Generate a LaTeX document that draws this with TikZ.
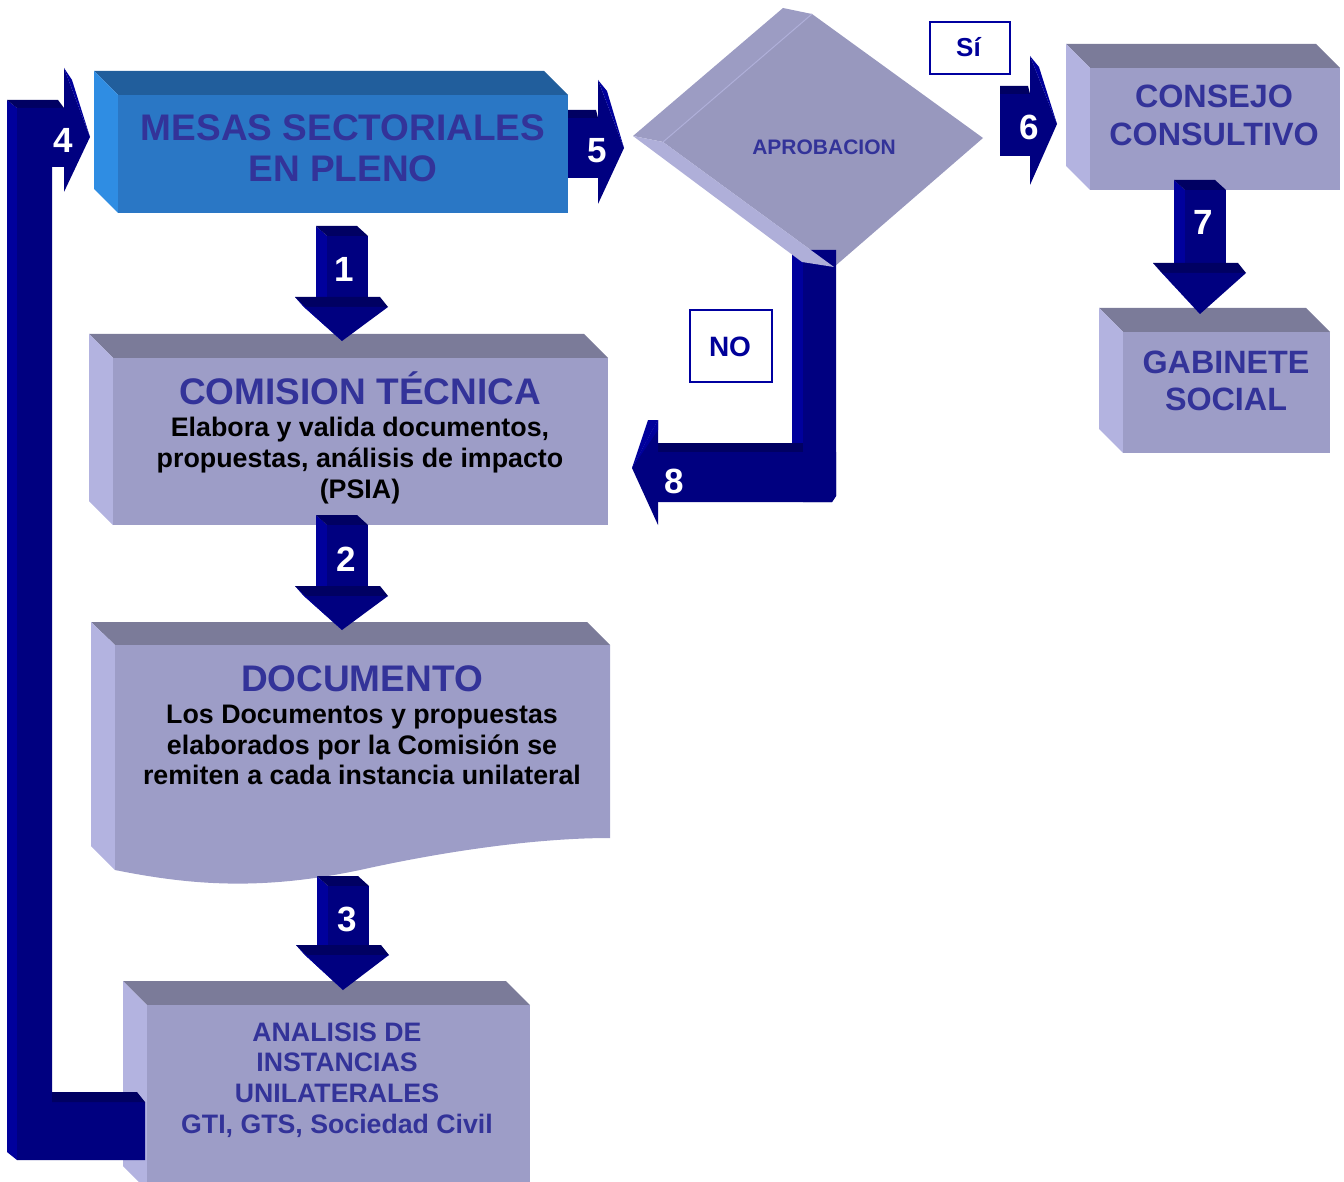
\documentclass[tikz,border=0pt]{standalone}
\usepackage{fontspec}
\setmainfont{Liberation Sans}
\definecolor{bxF}{HTML}{9D9DC7}
\definecolor{bxT}{HTML}{7B7B99}
\definecolor{bxL}{HTML}{B3B3E0}
\definecolor{msF}{HTML}{2A77C5}
\definecolor{msT}{HTML}{215E9C}
\definecolor{msL}{HTML}{2F8DE3}
\definecolor{tblue}{HTML}{333399}
\definecolor{arM}{HTML}{000080}
\definecolor{arL}{HTML}{00009C}
\definecolor{arD}{HTML}{000062}
\definecolor{dmF}{HTML}{9898BE}
\definecolor{dmU}{HTML}{9C9CC3}
\definecolor{dmL}{HTML}{AFAFD9}
\definecolor{lblbd}{HTML}{0000A0}
\definecolor{lbltx}{HTML}{000099}

\newcommand\BoxThreeD[8]{%
  \fill[#7] (#2,#3) -- ({#2-24},{#3-24}) -- ({#4-24},{#3-24}) -- (#4,#3) -- cycle;
  \fill[#8] (#2,#3) -- ({#2-24},{#3-24}) -- ({#2-24},{#5-24}) -- (#2,#5) -- cycle;
  \node[fill=#6, inner sep=0, minimum width={#4-#2}, minimum height={#5-#3}, anchor=north west] (#1) at (#2,#3) {};
}
\newcommand\DnArrow[4]{%
  \fill[arL] ({#1-26},#2) -- ({#1-15},{#2+10}) -- ({#1-15},#3) -- ({#1-26},#3) -- cycle;
  \fill[arD] ({#1-26},#2) -- ({#1+15},#2) -- ({#1+26},{#2+10}) -- ({#1-15},{#2+10}) -- cycle;
  \fill[arM] ({#1-15},{#2+10}) -- ({#1+26},{#2+10}) -- ({#1+26},#3) -- ({#1-15},#3) -- cycle;
  \fill[arD] ({#1-47},#3) -- ({#1+38},#3) -- ({#1+46},{#3+10}) -- ({#1-38},{#3+10}) -- cycle;
  \fill[arM] ({#1-38},{#3+10}) -- ({#1+46},{#3+10}) -- (#1,#4) -- cycle;
  \fill[arL] ({#1-47},#3) -- ({#1-38},{#3+10}) -- (#1,#4) -- cycle;
}
\newcommand\RtArrow[8]{% x0 st sb xh ht hb tipx tipy
  \fill[arD] (#1,#2) -- ({#4-2},#2) -- (#4,{#2+8}) -- (#1,{#2+8}) -- cycle;
  \fill[arM] (#1,{#2+8}) -- (#4,{#2+8}) -- (#4,#3) -- (#1,#3) -- cycle;
  \fill[arM] (#4,#5) -- (#7,#8) -- (#4,#6) -- cycle;
  \fill[arL] (#4,#5) -- ({#4+9},{#5+11}) -- (#7,#8) -- cycle;
}

\tikzset{
  numlbl/.style={text=white, font=\fontsize{35}{40}\selectfont\bfseries, anchor=base, inner sep=0},
  ttl/.style={text=tblue, font=\fontsize{37}{41}\selectfont\bfseries, align=center, inner sep=0},
  ttlsm/.style={text=tblue, font=\fontsize{32.3}{37.5}\selectfont\bfseries, align=center, inner sep=0},
  bodytx/.style={text=black, font=\fontsize{26.8}{30.8}\selectfont\bfseries, align=center, inner sep=0},
  bluetx/.style={text=tblue, font=\fontsize{26.7}{30.8}\selectfont\bfseries, align=center, inner sep=0},
  tagbox/.style={draw=lblbd, line width=1.8pt, fill=white, inner sep=0, anchor=north west},
  tagtx/.style={text=lbltx, font=\bfseries, anchor=base, inner sep=0}
}

\begin{document}
\begin{tikzpicture}[x=1pt,y=-1pt]
\useasboundingbox (0,0) rectangle (1344,1182);

% ---- boxes ----
\BoxThreeD{mesas}{118}{95}{568}{213}{msF}{msT}{msL}
\BoxThreeD{comision}{113}{358}{608}{525}{bxF}{bxT}{bxL}
\BoxThreeD{analisis}{147}{1005}{530}{1190}{bxF}{bxT}{bxL}
\BoxThreeD{consejo}{1090}{68}{1340}{190}{bxF}{bxT}{bxL}
\BoxThreeD{gabinete}{1123}{332}{1330}{453}{bxF}{bxT}{bxL}

% document box (wavy bottom)
\fill[bxT] (115,645) -- (91,622) -- (587,622) -- (610,645) -- cycle;
\fill[bxL] (115,645) -- (91,622) -- (91,846) -- (115,870) -- cycle;
\path[fill=bxF] (115,645) -- (610,645) -- (610,838)
  .. controls (540,838) and (450,850) .. (360,870)
  .. controls (260,891) and (190,885) .. (115,870) -- cycle;
\coordinate (documento) at (362,645);

% ---- diamond ----
\fill[dmF] (663,142) -- (812,14) -- (983,138) -- (834,267) -- cycle;
\fill[dmU] (633,136) -- (783,8) -- (812,14) -- (663,142) -- cycle;
\draw[draw=dmL, line width=1pt] (663,142) -- (812,14);
\coordinate (aprob) at (824,140);

% ---- arrow 8 (NO branch) ----
\fill[arL] (792,250) -- (803,250) -- (803,443) -- (792,443) -- cycle;
\fill[arM] (803,250) -- (836,250) -- (836,496) -- (832,502) -- (803,502) -- cycle;
\fill[arD] (658,443) -- (803,443) -- (803,452) -- (658,452) -- cycle;
\fill[arM] (658,452) -- (836,452) -- (836,496) -- (832,502) -- (658,502) -- cycle;
\fill[arM] (658,420) -- (632,468) -- (658,525) -- cycle;
\fill[arL] (658,420) -- (632,468) -- (648,420) -- cycle;
\fill[arL] (658,420) -- (658,430) -- (632,468) -- cycle;
% diamond lower-left face drawn over the bar top
\fill[dmL] (633,136) -- (663,142) -- (834,267) -- (802,262) -- cycle;

% ---- arrow 4 (feedback loop) ----
\fill[arL] (7,100) -- (17,108) -- (17,1160) -- (7,1152) -- cycle;
\fill[arD] (7,100) -- (58,100) -- (64,108) -- (17,108) -- cycle;
\fill[arM] (17,108) -- (64,108) -- (64,167) -- (52,167) -- (52,1102) -- (145,1102) -- (145,1160) -- (17,1160) -- cycle;
\fill[arD] (52,1092) -- (137,1092) -- (145,1102) -- (52,1102) -- cycle;
\fill[arM] (64,68) -- (90,137) -- (64,192) -- cycle;
\fill[arL] (64,68) -- (72,80) -- (90,137) -- cycle;

% ---- straight arrows ----
\DnArrow{342}{226}{297}{341}
\DnArrow{342}{515}{586}{630}
\DnArrow{343}{876}{945}{990}
\DnArrow{1200}{180}{263}{314}
\RtArrow{568}{110}{178}{598}{80}{204}{624}{148}
\RtArrow{1000}{86}{156}{1030}{56}{185}{1057}{124}

% ---- tags ----
\node[tagbox, minimum width=80, minimum height=52] (si) at (929,21) {};
\node[tagbox, minimum width=82, minimum height=72] (no) at (689,309) {};
\node[tagtx, font=\fontsize{26}{30}\selectfont\bfseries] (sitx) at (968.5,56.5) {Sí};
\node[tagtx, font=\fontsize{28}{32}\selectfont\bfseries] (notx) at (730,356) {NO};

% ---- texts ----
\node[ttl] (mesasT) at (343,148.3) {MESAS SECTORIALES\\EN PLENO};
\node[ttl, anchor=base] (comT) at (360,404) {COMISION TÉCNICA};
\node[bodytx] (comB) at (360,460.5) {Elabora y valida documentos,\\propuestas, análisis de impacto\\(PSIA)};
\node[ttl, anchor=base] (docT) at (362,691) {DOCUMENTO};
\node[bodytx] (docB) at (362,745) {Los Documentos y propuestas\\elaborados por la Comisión se\\remiten a cada instancia unilateral};
\node[bluetx] (anaT) at (337,1080) {ANALISIS DE\\INSTANCIAS\\UNILATERALES\\GTI, GTS, Sociedad Civil};
\node[ttlsm] (conT) at (1214,115.5) {CONSEJO\\CONSULTIVO};
\node[ttlsm] (gabT) at (1226,381) {GABINETE\\SOCIAL};
\node[text=tblue, font=\fontsize{21}{24}\selectfont\bfseries, anchor=base, inner sep=0] (aprT) at (824,155) {APROBACION};

% ---- step numbers ----
\node[numlbl] (n1) at (344.5,282) {1};
\node[numlbl] (n2) at (346,571) {2};
\node[numlbl] (n3) at (347,931) {3};
\node[numlbl] (n4) at (63,153) {4};
\node[numlbl] (n5) at (597.5,163) {5};
\node[numlbl] (n6) at (1029.5,140) {6};
\node[numlbl] (n7) at (1203,235) {7};
\node[numlbl] (n8) at (674.5,493) {8};
\end{tikzpicture}
\end{document}
